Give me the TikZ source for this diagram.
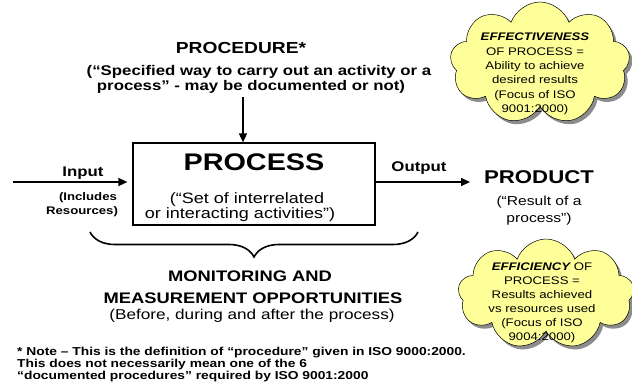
\documentclass[tikz,border=0pt]{standalone}
\usepackage{fontspec}
\setmainfont{Liberation Sans}[FakeStretch=1.2]
\usetikzlibrary{shapes.symbols,shadows,arrows.meta,decorations.pathreplacing}
\definecolor{cloudfill}{HTML}{FFFF99}
\begin{document}
\begin{tikzpicture}[x=1pt,y=-1pt,
  txt/.style={inner sep=0pt, anchor=base},
  fs/.style n args={2}{font=\fontsize{#1}{#2}\selectfont},
  bfs/.style n args={2}{font=\bfseries\fontsize{#1}{#2}\selectfont},
  arr/.style={line width=1.6pt, -{Triangle[length=9pt,width=8pt]}},
  cloudbox/.style={cloud, cloud puffs=9, cloud puff arc=140, cloud ignores aspect,
    draw=black, line width=0.5pt, fill=cloudfill, inner sep=0pt,
    drop shadow={fill=black!45, shadow xshift=3pt, shadow yshift=-3.5pt, opacity=1}},
  notetxt/.style={txt, anchor=base west, bfs={11.5}{12}},
]
\useasboundingbox (0,0) rectangle (632,389);

% clouds
\node[cloudbox, minimum width=180pt, minimum height=122pt] (cloudA) at (540,63) {};
\node[cloudbox, minimum width=176pt, minimum height=110pt] (cloudB) at (546,294) {};

\begin{scope}[every node/.style={txt, fs={11}{13}}]
\node (ca1) at (535,40) {\bfseries\itshape EFFECTIVENESS};
\node (ca2) at (535,55) {OF PROCESS =};
\node (ca3) at (535,69) {Ability to achieve};
\node (ca4) at (535,83) {desired results};
\node (ca5) at (535,98) {(Focus of ISO};
\node (ca6) at (535,112) {9001:2000)};
\node (cb1) at (542,270) {\bfseries\itshape EFFICIENCY\mdseries\upshape{} OF};
\node (cb2) at (542,284) {PROCESS =};
\node (cb3) at (542,298) {Results achieved};
\node (cb4) at (542,312) {vs resources used};
\node (cb5) at (542,326) {(Focus of ISO};
\node (cb6) at (542,340) {9004:2000)};
\end{scope}

% procedure
\node[txt, bfs={16}{18}] (procedure) at (241,53) {PROCEDURE*};
\node[txt, bfs={14}{16}] (procdef1) at (259,75) {(“Specified way to carry out an activity or a};
\node[txt, bfs={14}{16}] (procdef2) at (251,90) {process” - may be documented or not)};

% process box
\node[draw, line width=1.2pt, minimum width=242pt, minimum height=82pt, inner sep=0pt] (process) at (254,184) {};
\node[txt, bfs={24}{26}] (ptitle) at (254,170) {PROCESS};
\node[txt, fs={15}{16}] (pdef1) at (247,203) {(“Set of interrelated};
\node[txt, fs={15}{16}] (pdef2) at (240,218) {or interacting activities”)};

\coordinate (procin) at (243,97);
\draw[arr] (procin) -- (procin |- process.north);

% input
\node[txt, bfs={14}{16}] (input) at (83,176) {Input};
\node[txt, bfs={11}{13}] (incl1) at (88,200) {(Includes};
\node[txt, bfs={11}{13}] (incl2) at (82,214) {Resources)};
\coordinate (inp) at (13,182);
\draw[arr, shorten >=5pt] (inp) -- (inp -| process.west);

% output
\node[txt, bfs={14}{16}] (output) at (419,171) {Output};
\coordinate (outp) at (470,182);
\draw[arr] (outp -| process.east) -- (outp);

% product
\node[txt, bfs={18.5}{20}] (product) at (539,183) {PRODUCT};
\node[txt, fs={13}{15}] (prod1) at (539,205) {(“Result of a};
\node[txt, fs={13}{15}] (prod2) at (539,222) {process”)};

% brace
\coordinate (brl) at (90,232);
\coordinate (brr) at (418,232);
\draw[decorate, decoration={brace, amplitude=25pt, mirror}, line width=1.6pt] (brl) -- (brr);

% monitoring
\node[txt, bfs={15.3}{17}] (mon1) at (250,281) {MONITORING AND};
\node[txt, bfs={15.3}{17}] (mon2) at (253,303) {MEASUREMENT OPPORTUNITIES};
\node[txt, fs={14.3}{16}] (mon3) at (252,319) {(Before, during and after the process)};

% note
\node[notetxt] (note1) at (17,355) {* Note – This is the definition of “procedure” given in ISO 9000:2000.};
\node[notetxt] (note2) at (17,367) {This does not necessarily mean one of the 6};
\node[notetxt] (note3) at (17,379) {“documented procedures” required by ISO 9001:2000};
\end{tikzpicture}
\end{document}
